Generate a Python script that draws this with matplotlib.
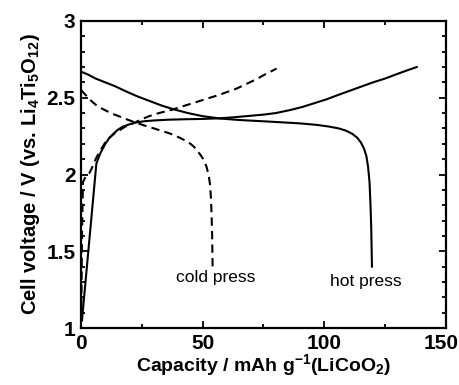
"""Charge/discharge curves: hot press vs cold press cells."""

import numpy as np
import matplotlib

matplotlib.use("Agg")
import matplotlib.pyplot as plt
from matplotlib.ticker import MultipleLocator
import matplotlib.transforms as mtransforms

plt.rcParams["font.family"] = "Liberation Sans"
plt.rcParams["mathtext.fontset"] = "custom"
plt.rcParams["mathtext.rm"] = "Liberation Sans:bold"
plt.rcParams["mathtext.default"] = "rm"

# hot press, charge (solid)
hot_chg_cap = [0.4, 6.3, 7, 8, 9, 10, 11.5, 13, 15, 17, 19.5, 22, 26, 30, 36, 43, 50, 57,
               63, 70, 75, 80, 86, 91, 96, 101, 106, 113, 120, 125, 130, 134, 138]
hot_chg_v = [1.05, 2.07, 2.10, 2.14, 2.17, 2.20, 2.235, 2.26, 2.29, 2.31, 2.325, 2.337, 2.347,
             2.352, 2.357, 2.36, 2.362, 2.366, 2.373, 2.383, 2.39, 2.40, 2.42, 2.44, 2.465,
             2.49, 2.52, 2.56, 2.60, 2.625, 2.655, 2.678, 2.70]

# hot press, discharge (solid)
hot_dis_cap = [0, 3, 6, 10, 14, 18, 23, 28, 33, 38, 44, 50, 57, 65, 78, 90, 97, 102, 106,
               109, 111.5, 113.5, 115, 116.3, 117.3, 118, 118.6, 119, 119.3, 119.6]
hot_dis_v = [2.67, 2.65, 2.625, 2.60, 2.575, 2.545, 2.51, 2.48, 2.45, 2.425, 2.40, 2.38,
             2.365, 2.355, 2.344, 2.333, 2.323, 2.312, 2.30, 2.285, 2.265, 2.24, 2.21, 2.17,
             2.12, 2.05, 1.95, 1.80, 1.65, 1.40]

# cold press, charge (dashed)
cold_chg_cap = [0.1, 0.4, 0.8, 2, 3.5, 5, 6, 7, 8.5, 10, 12, 14, 16, 18, 21.5, 25, 28, 32,
                37, 43, 50, 57, 64, 68, 72, 76, 80.4]
cold_chg_v = [1.05, 1.6, 1.95, 1.99, 2.01, 2.06, 2.10, 2.13, 2.17, 2.21, 2.245, 2.27, 2.29,
              2.31, 2.334, 2.36, 2.38, 2.40, 2.42, 2.45, 2.485, 2.52, 2.56, 2.59, 2.62,
              2.655, 2.69]

# cold press, discharge (dashed)
cold_dis_cap = [0, 1.5, 3, 4.5, 6.4, 8.5, 11, 13.5, 16, 19.5, 23, 26.5, 30, 33, 36, 38.5,
                41, 43, 45, 46.5, 47.5, 49, 50.3, 51.6, 52.4, 53, 53.4, 53.7, 53.9, 54.1]
cold_dis_v = [2.55, 2.525, 2.50, 2.475, 2.45, 2.43, 2.41, 2.392, 2.377, 2.355, 2.335, 2.317,
              2.30, 2.285, 2.27, 2.255, 2.236, 2.22, 2.20, 2.18, 2.16, 2.13, 2.10, 2.05,
              2.00, 1.94, 1.85, 1.725, 1.60, 1.40]

fig = plt.figure(figsize=(4.59, 3.85), dpi=100)
ax = fig.add_axes([0.1765, 0.148, 0.795, 0.7975])

ax.plot(hot_chg_cap, hot_chg_v, "k-", lw=1.5)
ax.plot(hot_dis_cap, hot_dis_v, "k-", lw=1.5)
ax.plot(cold_chg_cap, cold_chg_v, "k-", lw=1.5, dashes=(4, 2.5))
ax.plot(cold_dis_cap, cold_dis_v, "k-", lw=1.5, dashes=(4, 2.5))

ax.text(55.5, 1.326, "cold press", ha="center", va="center", fontsize=12.5)
ax.text(117, 1.30, "hot press", ha="center", va="center", fontsize=12.5)

ax.set_xlim(0, 150)
ax.set_ylim(1, 3)
ax.xaxis.set_minor_locator(MultipleLocator(25))
ax.yaxis.set_minor_locator(MultipleLocator(0.1))
ax.set_xticks([0, 50, 100, 150], ["0", "50", "100", "150"])
ax.set_yticks([1, 1.5, 2, 2.5, 3], ["1", "1.5", "2", "2.5", "3"])
ax.tick_params(which="both", direction="in", top=True, right=True, width=1.3)
ax.tick_params(which="major", length=5, labelsize=15, pad=4)
ax.tick_params(which="minor", length=3)
for lab in ax.get_xticklabels() + ax.get_yticklabels():
    lab.set_fontweight("bold")
# keep the last x label inside the figure edge
last = ax.get_xticklabels()[-1]
last.set_transform(last.get_transform() + mtransforms.ScaledTranslation(-5 / 100, 0, fig.dpi_scale_trans))
for sp in ax.spines.values():
    sp.set_linewidth(1.6)

ax.set_xlabel("Capacity / mAh g$^{-1}$(LiCoO$_2$)", fontsize=14, fontweight="bold", labelpad=0)
ax.set_ylabel("Cell voltage / V (vs. Li$_4$Ti$_5$O$_{12}$)", fontsize=14.5, fontweight="bold", labelpad=3)

fig.savefig("out.png", dpi=100)
plt.close(fig)
